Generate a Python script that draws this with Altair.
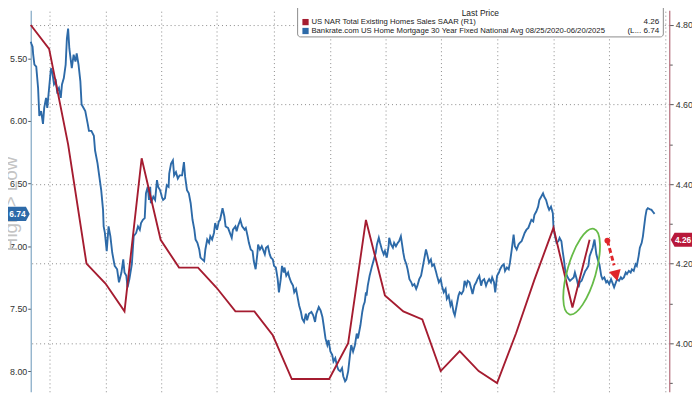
import altair as alt
import pandas as pd

FONT = "Liberation Sans"
BLUE = "#2d6aa8"
RED = "#a51c30"
ARROW_RED = "#e0262b"
GREEN = "#66bb47"

START = "2022-08-31"

# Bankrate 30Y fixed mortgage rate (left axis, inverted); x = days after START
blue_day = [0, 1, 3, 4, 6, 9, 12, 14, 17, 20, 22, 25, 27, 30, 33, 35, 38, 41, 43, 46,
            49, 51, 54, 57, 59, 61, 63, 65, 67, 70, 73, 75, 78, 81, 83, 86, 89, 93, 95, 99,
            103, 105, 109, 112, 115, 118, 119, 121, 124, 127, 130, 133, 137, 141, 144, 148, 151, 153, 156, 158,
            161, 165, 168, 172, 175, 178, 180, 183, 186, 188, 191, 193, 195, 196, 200, 203, 206, 208, 211, 214,
            216, 219, 222, 225, 226, 229, 232, 234, 237, 240, 243, 247, 250, 252, 255, 258, 261, 264, 267, 269,
            272, 275, 277, 280, 283, 285, 288, 291, 293, 296, 299, 301, 304, 307, 309, 313, 316, 318, 322, 325,
            328, 330, 334, 336, 338, 342, 345, 349, 351, 354, 356, 359, 362, 364, 367, 370, 371, 374, 377, 382,
            384, 387, 390, 392, 395, 397, 400, 403, 405, 408, 410, 413, 414, 417, 420, 422, 425, 428, 430, 433,
            436, 438, 441, 443, 446, 449, 451, 454, 458, 461, 464, 466, 470, 473, 476, 478, 481, 484, 486, 489,
            492, 494, 497, 500, 502, 505, 508, 510, 513, 515, 518, 521, 523, 526, 529, 532, 534, 538, 541, 543,
            545, 547, 548, 550, 553, 557, 560, 563, 565, 568, 570, 573, 576, 578, 581, 584, 585, 588, 591, 593,
            596, 599, 601, 604, 606, 608, 610, 613, 615, 618, 621, 623, 626, 629, 631, 634, 637, 639, 642, 645,
            647, 650, 653, 655, 658, 661, 663, 666, 669, 671, 674, 677, 679, 682, 685, 687, 690, 692, 695, 698,
            700, 703, 706, 708, 711, 713, 716, 719, 721, 724, 727, 729, 732, 735, 737, 740, 743, 745, 748, 751,
            753, 756, 758, 761, 764, 766, 769, 772, 774, 777, 780, 782, 785, 788, 790, 793, 796, 798, 801, 804,
            806, 809, 812, 814, 817, 820, 822, 825, 828, 830, 833, 836, 838, 841, 844, 846, 849, 852, 853, 855,
            858, 861, 863, 866, 868, 870, 872, 875, 878, 880, 883, 886, 888, 891, 894, 896, 899, 902, 905, 907,
            910, 912, 915, 917, 920, 923, 926, 928, 931, 933, 936, 939, 941, 944, 947, 949, 952, 955, 957, 960,
            963, 965, 968, 971, 973, 976, 979, 981, 984, 987, 989, 992, 994, 997, 999, 1001, 1003, 1005, 1007, 1010,
            1013, 1015, 1018]
blue_rate = [5.368, 5.382, 5.408, 5.471, 5.550, 5.566, 5.737, 5.960, 5.921, 6.023, 5.895, 5.816, 5.895, 5.737, 5.579, 5.605, 5.708, 5.684, 5.763, 5.737,
             5.816, 5.708, 5.658, 5.550, 5.342, 5.263, 5.421, 5.500, 5.579, 5.471, 5.526, 5.461, 5.550, 5.684, 5.868, 5.895, 5.921, 6.023, 6.079, 6.079,
             6.118, 6.236, 6.339, 6.447, 6.552, 6.710, 6.842, 6.894, 7.039, 6.842, 6.921, 7.052, 7.157, 7.184, 7.288, 7.210, 7.105, 7.210, 7.236, 7.328,
             7.262, 7.144, 6.921, 6.894, 6.842, 6.868, 6.815, 6.789, 6.776, 6.578, 6.526, 6.631, 6.526, 6.657, 6.605, 6.631, 6.473, 6.526, 6.552, 6.605,
             6.631, 6.618, 6.513, 6.526, 6.420, 6.341, 6.315, 6.434, 6.408, 6.460, 6.434, 6.434, 6.329, 6.447, 6.552, 6.578, 6.657, 6.789, 6.868, 6.947,
             6.973, 7.026, 7.091, 7.105, 7.118, 7.026, 6.947, 6.973, 6.921, 6.947, 6.894, 6.815, 6.868, 6.802, 6.789, 6.697, 6.763, 6.842, 6.854, 6.894,
             6.933, 6.868, 6.842, 6.881, 6.842, 6.789, 6.842, 6.868, 6.854, 6.921, 6.973, 7.026, 7.039, 7.118, 7.184, 7.052, 6.986, 7.026, 7.000, 7.065,
             7.012, 7.000, 7.065, 7.091, 7.105, 7.157, 7.170, 7.263, 7.368, 7.263, 7.157, 7.210, 7.170, 7.236, 7.210, 7.249, 7.288, 7.315, 7.368, 7.341,
             7.420, 7.473, 7.525, 7.578, 7.604, 7.539, 7.592, 7.539, 7.525, 7.552, 7.604, 7.539, 7.486, 7.513, 7.565, 7.631, 7.736, 7.789, 7.749, 7.841,
             7.868, 7.920, 7.894, 7.959, 7.986, 7.999, 7.973, 8.038, 8.078, 8.065, 7.999, 7.868, 7.789, 7.841, 7.790, 7.697, 7.736, 7.631, 7.525, 7.473,
             7.446, 7.368, 7.394, 7.315, 7.236, 7.157, 7.105, 7.052, 6.986, 6.933, 6.973, 7.026, 7.065, 7.039, 7.091, 7.000, 6.933, 6.986, 7.012, 6.973,
             7.000, 6.973, 6.960, 6.921, 6.986, 7.052, 7.105, 7.144, 7.184, 7.263, 7.288, 7.315, 7.302, 7.341, 7.315, 7.263, 7.236, 7.184, 7.105, 7.026,
             7.065, 7.131, 7.105, 7.157, 7.144, 7.197, 7.236, 7.288, 7.263, 7.315, 7.368, 7.341, 7.420, 7.394, 7.473, 7.446, 7.525, 7.552, 7.473, 7.394,
             7.368, 7.381, 7.355, 7.276, 7.315, 7.276, 7.288, 7.341, 7.381, 7.315, 7.288, 7.263, 7.236, 7.315, 7.276, 7.263, 7.315, 7.288, 7.263, 7.288,
             7.249, 7.288, 7.368, 7.236, 7.210, 7.184, 7.157, 7.144, 7.197, 7.170, 7.184, 7.131, 7.026, 6.907, 7.000, 7.026, 6.986, 6.973, 6.960, 6.921,
             6.894, 6.868, 6.854, 6.828, 6.789, 6.802, 6.749, 6.723, 6.684, 6.631, 6.605, 6.578, 6.605, 6.631, 6.684, 6.710, 6.684, 6.736, 6.842, 6.907,
             6.973, 6.960, 6.933, 6.960, 7.039, 7.105, 7.184, 7.236, 7.263, 7.276, 7.263, 7.249, 7.210, 7.263, 7.328, 7.288, 7.276, 7.236, 7.197, 7.184,
             7.157, 7.079, 7.039, 7.012, 6.947, 7.065, 7.118, 7.144, 7.236, 7.263, 7.249, 7.288, 7.276, 7.302, 7.263, 7.288, 7.328, 7.288, 7.263, 7.276,
             7.249, 7.263, 7.249, 7.210, 7.223, 7.197, 7.210, 7.184, 7.197, 7.144, 7.157, 7.079, 7.012, 6.973, 6.921, 6.842, 6.763, 6.710, 6.697, 6.704,
             6.710, 6.723, 6.742]

# NAR existing home sales SAAR, millions (right axis), monthly
red_dates = ["2022-08-31", "2022-09-30", "2022-10-31", "2022-11-30", "2022-12-31",
             "2023-01-31", "2023-02-28", "2023-03-31", "2023-04-30", "2023-05-31", "2023-06-30",
             "2023-07-31", "2023-08-31", "2023-09-30", "2023-10-31", "2023-11-30", "2023-12-31",
             "2024-01-31", "2024-02-29", "2024-03-31", "2024-04-30", "2024-05-31", "2024-06-30",
             "2024-07-31", "2024-08-31", "2024-09-30", "2024-10-31", "2024-11-30", "2024-12-31",
             "2025-01-31", "2025-02-28"]
red_sales = [4.80, 4.74, 4.50, 4.20, 4.15, 4.08, 4.465, 4.26, 4.19, 4.19, 4.14,
             4.08, 4.08, 4.02, 3.91, 3.91, 3.91, 4.00, 4.31, 4.12, 4.08, 4.06, 3.93,
             3.98, 3.93, 3.90, 4.025, 4.16, 4.29, 4.09, 4.26]

quarter_starts = [(2022, 10), (2023, 1), (2023, 4), (2023, 7), (2023, 10), (2024, 1),
                  (2024, 4), (2024, 7), (2024, 10), (2025, 1), (2025, 4), (2025, 7)]
left_ticks = [5.5, 6.0, 6.5, 7.0, 7.5, 8.0]
right_ticks = [3.9, 4.0, 4.1, 4.2, 4.3, 4.4, 4.5, 4.6, 4.7, 4.8]

legend_names = ["US NAR Total Existing Homes Sales SAAR  (R1)",
                "Bankrate.com US Home Mortgage 30 Year Fixed National Avg 08/25/2020-06/20/2025"]
legend_last = ["4.26", "(L... 6.74"]
legend_colors = [RED, BLUE]

# annotations (data coordinates on the right-hand scale)
ellipse_at = ("2025-02-15", 4.18)
arrow_from = ("2025-03-29", 4.258)
arrow_to = ("2025-04-09", 4.196)
arrow_head = ("2025-04-12", 4.171)

W, H = 646, 386

start = pd.Timestamp(START)
blue_df = pd.DataFrame({"date": start + pd.to_timedelta(blue_day, unit="D"), "rate": blue_rate})
red_df = pd.DataFrame({"date": pd.to_datetime(red_dates), "sales": red_sales})

xscale = alt.Scale(domain=[alt.DateTime(year=2022, month=8, date=31),
                           alt.DateTime(year=2025, month=7, date=8)], nice=False)
xaxis = alt.Axis(values=[alt.DateTime(year=y, month=m, date=1) for y, m in quarter_starts],
                 grid=True, gridDash=[1, 3], gridColor="#8a8a8a", gridWidth=1,
                 labels=False, ticks=False, domain=False, title=None)

lscale = alt.Scale(domain=[5.116, 8.162], reverse=True, nice=False, zero=False)
rscale = alt.Scale(domain=[3.878, 4.837], nice=False, zero=False)

major = "round(datum.value*10) % 2 == 0"
laxis = alt.Axis(orient="left", values=left_ticks, format=".2f", grid=False, tickSize=3,
                 tickColor="#555", labelFontSize=9, labelColor="#333", labelFont=FONT,
                 labelPadding=1, domainColor="#7fa7c4", domainWidth=1.2, title=None)
raxis = alt.Axis(orient="right", values=right_ticks,
                 labelExpr=f"{major} ? format(datum.value, '.2f') : ''",
                 grid=True, gridDash=[1, 3], gridColor="#8a8a8a",
                 gridOpacity={"condition": {"test": major, "value": 1}, "value": 0},
                 tickSize={"condition": {"test": major, "value": 4}, "value": 3},
                 tickColor="#555", labelFontSize=9, labelColor="#333", labelFont=FONT,
                 labelPadding=2, domainColor="#b36a78", domainWidth=1.2, title=None)

TAG_R = "M1,0 L0.65,-0.65 L-1,-0.65 L-1,0.65 L0.65,0.65 Z"
TAG_L = "M-1,0 L-0.65,-0.65 L1,-0.65 L1,0.65 L-0.65,0.65 Z"
ELLIPSE = "M0,-1 A0.32,1 0 1,1 0,1 A0.32,1 0 1,1 0,-1 Z"
HEAD = "M-1,-0.8 L1,-0.8 L0,1 Z"

# ---- left (blue) layer
blue_line = alt.Chart(blue_df).mark_line(color=BLUE, strokeWidth=1.9).encode(
    x=alt.X("date:T", scale=xscale, axis=xaxis),
    y=alt.Y("rate:Q", scale=lscale, axis=laxis))
blue_last = pd.DataFrame({"rate": [blue_rate[-1]]})
blue_tag = alt.Chart(blue_last).mark_point(shape=TAG_R, size=484, filled=True, opacity=1,
                                           color=BLUE).encode(
    x=alt.value(-12), y=alt.Y("rate:Q", scale=lscale))
blue_tag_txt = alt.Chart(blue_last).mark_text(color="white", fontSize=8.5, font=FONT,
                                              fontWeight="bold").encode(
    x=alt.value(-13.5), y=alt.Y("rate:Q", scale=lscale), text=alt.Text("rate:Q", format=".2f"))
watermark = alt.Chart(pd.DataFrame({"t": ["High > Low"]})).mark_text(
    angle=270, fontSize=19, color="#c4c4c4", font=FONT).encode(
    x=alt.value(-20), y=alt.value(196), text="t:N")
left_layer = alt.layer(watermark, blue_line, blue_tag, blue_tag_txt)

# ---- right (red) layer
red_line = alt.Chart(red_df).mark_line(color=RED, strokeWidth=1.9).encode(
    x=alt.X("date:T", scale=xscale, axis=xaxis),
    y=alt.Y("sales:Q", scale=rscale, axis=raxis))
red_last = pd.DataFrame({"sales": [red_sales[-1]]})
red_tag = alt.Chart(red_last).mark_point(shape=TAG_L, size=484, filled=True, opacity=1,
                                         color="#b8183a").encode(
    x=alt.value(W + 12.5), y=alt.Y("sales:Q", scale=rscale))
red_tag_txt = alt.Chart(red_last).mark_text(color="white", fontSize=8.5, font=FONT,
                                            fontWeight="bold").encode(
    x=alt.value(W + 14), y=alt.Y("sales:Q", scale=rscale), text=alt.Text("sales:Q", format=".2f"))

ell_df = pd.DataFrame({"date": [pd.Timestamp(ellipse_at[0])], "v": [ellipse_at[1]]})
ellipse = alt.Chart(ell_df).mark_point(shape=ELLIPSE, size=8100, filled=False, angle=16,
                                       color=GREEN, strokeWidth=1.8, opacity=1).encode(
    x=alt.X("date:T", scale=xscale), y=alt.Y("v:Q", scale=rscale))

arr_df = pd.DataFrame({"d0": [pd.Timestamp(arrow_from[0])], "v0": [arrow_from[1]],
                       "d1": [pd.Timestamp(arrow_to[0])], "v1": [arrow_to[1]]})
arrow_line = alt.Chart(arr_df).mark_rule(color=ARROW_RED, strokeWidth=3, strokeDash=[5, 3]).encode(
    x=alt.X("d0:T", scale=xscale), x2="d1:T",
    y=alt.Y("v0:Q", scale=rscale), y2="v1:Q")
arrow_dot = alt.Chart(arr_df).mark_point(shape="circle", size=35, filled=True, opacity=1,
                                         color=ARROW_RED).encode(
    x=alt.X("d0:T", scale=xscale), y=alt.Y("v0:Q", scale=rscale))
head_df = pd.DataFrame({"date": [pd.Timestamp(arrow_head[0])], "v": [arrow_head[1]]})
arrow_head_mk = alt.Chart(head_df).mark_point(shape=HEAD, size=150, filled=True, opacity=1,
                                              angle=346, color=ARROW_RED).encode(
    x=alt.X("date:T", scale=xscale), y=alt.Y("v:Q", scale=rscale))
right_layer = alt.layer(red_line, red_tag, red_tag_txt, ellipse, arrow_line, arrow_dot, arrow_head_mk)

# ---- legend box
leg_df = pd.DataFrame({"row": [0, 1], "name": legend_names, "last": legend_last, "c": legend_colors})
rowscale = alt.Scale(domain=[0, 1], range=[12, 21])
box = alt.Chart(pd.DataFrame({"a": [0]})).mark_rect(fill="white", stroke="#8c8c8c", strokeWidth=1,
                                                     cornerRadius=3).encode(
    x=alt.value(270), x2=alt.value(640), y=alt.value(-6), y2=alt.value(27))
header = alt.Chart(pd.DataFrame({"t": ["Last Price"]})).mark_text(
    align="left", fontSize=8.5, font=FONT, color="#222").encode(
    x=alt.value(436), y=alt.value(2.5), text="t:N")
sq = alt.Chart(leg_df).mark_square(size=40, opacity=1).encode(
    x=alt.value(278), y=alt.Y("row:Q", scale=rowscale, axis=None),
    color=alt.Color("c:N", scale=None))
names = alt.Chart(leg_df).mark_text(align="left", fontSize=7.8, font=FONT,
                                    color="#222").encode(
    x=alt.value(284), y=alt.Y("row:Q", scale=rowscale, axis=None), text="name:N")
lasts = alt.Chart(leg_df).mark_text(align="right", fontSize=8.2, font=FONT, color="#222").encode(
    x=alt.value(636), y=alt.Y("row:Q", scale=rowscale, axis=None), text="last:N")
legend_layer = alt.layer(box, header, sq, names, lasts)

chart = alt.layer(left_layer, right_layer, legend_layer).resolve_scale(
    y="independent"
).properties(
    width=W, height=H,
    padding={"left": 23, "top": 0, "right": 23, "bottom": 0},
    autosize=alt.AutoSizeParams(type="none"),
    background="white",
).configure_view(stroke=None)

chart.save("out.html", embed_options={"renderer": "svg", "actions": False})
